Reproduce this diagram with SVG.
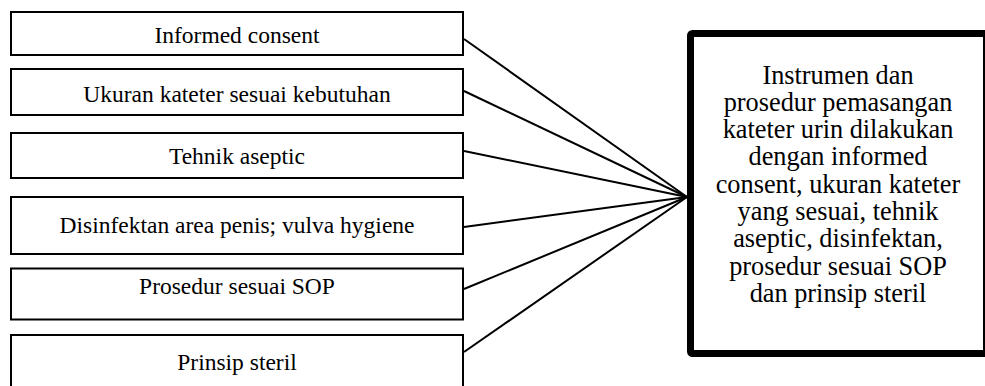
<svg xmlns="http://www.w3.org/2000/svg" width="985" height="386" viewBox="0 0 985 386">
  <style>
    .item rect { fill: #ffffff; stroke: #000000; stroke-width: 2; }
    .item text { font-family: "Liberation Serif", "Times New Roman", serif; font-size: 23.5px; fill: #000000; text-anchor: middle; }
    .result rect { fill: #ffffff; stroke: #000000; stroke-width: 7; }
    .result text { font-family: "Liberation Serif", "Times New Roman", serif; font-size: 26.3px; fill: #000000; text-anchor: middle; }
    .links line { stroke: #000000; stroke-width: 2; }
  </style>
  <rect width="985" height="386" fill="#ffffff"/>

  <!-- connectors: each factor box feeds the summary box -->
  <g id="connectors" class="links">
    <line x1="464" y1="39" x2="687" y2="197"/>
    <line x1="464" y1="91" x2="687" y2="197"/>
    <line x1="464" y1="151" x2="687" y2="197"/>
    <line x1="464" y1="227" x2="687" y2="197"/>
    <line x1="464" y1="289" x2="687" y2="197"/>
    <line x1="464" y1="352" x2="687" y2="197"/>
  </g>

  <!-- factor boxes -->
  <g id="informed-consent" class="item">
    <rect x="11" y="12" width="452" height="43"/>
    <text x="237" y="42.5">Informed consent</text>
  </g>
  <g id="ukuran-kateter" class="item">
    <rect x="11" y="69" width="452" height="46"/>
    <text x="237" y="101.5">Ukuran kateter sesuai kebutuhan</text>
  </g>
  <g id="tehnik-aseptic" class="item">
    <rect x="11" y="133" width="452" height="45"/>
    <text x="237" y="164">Tehnik aseptic</text>
  </g>
  <g id="disinfektan" class="item">
    <rect x="11" y="197" width="452" height="57"/>
    <text x="237" y="233">Disinfektan area penis; vulva hygiene</text>
  </g>
  <g id="prosedur-sop" class="item">
    <rect x="11" y="268.5" width="452" height="51"/>
    <text x="237" y="293.5">Prosedur sesuai SOP</text>
  </g>
  <g id="prinsip-steril" class="item">
    <rect x="11" y="335" width="452" height="70"/>
    <text x="237" y="370">Prinsip steril</text>
  </g>

  <!-- summary box -->
  <g id="kesimpulan" class="result">
    <rect x="690.5" y="33.5" width="296" height="320" rx="2"/>
    <text x="838" y="83.5">Instrumen dan</text>
    <text x="838" y="110.8">prosedur pemasangan</text>
    <text x="838" y="138.1">kateter urin dilakukan</text>
    <text x="838" y="165.4">dengan informed</text>
    <text x="838" y="192.7">consent, ukuran kateter</text>
    <text x="838" y="220">yang sesuai, tehnik</text>
    <text x="838" y="247.3">aseptic, disinfektan,</text>
    <text x="838" y="274.6">prosedur sesuai SOP</text>
    <text x="838" y="301.9">dan prinsip steril</text>
  </g>
</svg>
